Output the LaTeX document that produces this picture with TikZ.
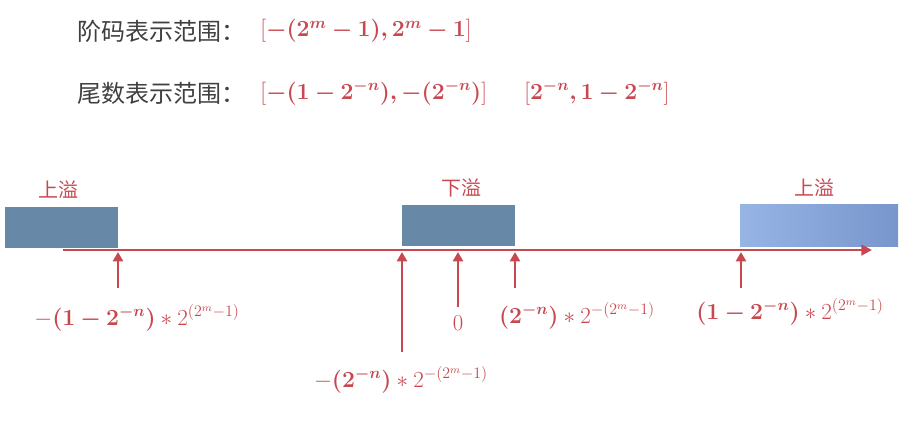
\documentclass[tikz,border=0pt]{standalone}
\usepackage{amsmath}
\usepackage{bm}
\usepackage{fontspec}
\usetikzlibrary{positioning,arrows.meta}
\newfontfamily\cjk{Noto Sans CJK SC}
\definecolor{lineRed}{RGB}{200,72,80}
\definecolor{textGray}{RGB}{64,64,64}
\definecolor{checkBlue}{RGB}{104,136,168}
\definecolor{fadeBlue}{RGB}{150,180,228}
\definecolor{sideBlue}{RGB}{120,150,204}
\tikzstyle{pixelGrid} = [x = 0.75pt, y = -0.75pt]
\tikzstyle{titleText} = [font=\cjk\fontsize{18}{22}\selectfont, text=textGray, anchor=west, inner sep=0pt]
\tikzstyle{rangeText} = [font=\fontsize{17}{20}\selectfont, text=lineRed, anchor=west, inner sep=0pt]
\tikzstyle{flowText} = [font=\cjk\fontsize{15}{18}\selectfont, text=lineRed, inner sep=0pt]
\tikzstyle{boundText} = [font=\fontsize{17}{20}\selectfont, text=lineRed, inner sep=0pt]
\tikzstyle{boxFill} = [fill=checkBlue]
\tikzstyle{axisLine} = [color=lineRed, line width=2.2pt, -{Triangle[length=8pt, width=8pt]}]
\tikzstyle{tickLine} = [color=lineRed, line width=2.2pt, -{Triangle[length=7pt, width=7.5pt]}]
\newcommand{\overflowBox}[5]{
  \coordinate (#1NW) at (#2,#3);
  \coordinate (#1SE) at (#4,#5);
  \fill [boxFill] (#1NW) rectangle (#1SE);
}
\newcommand{\tickArrow}[3]{
  \coordinate (#1Head) at (#2,252);
  \coordinate (#1Foot) at (#2,#3);
  \draw [tickLine] (#1Foot) -- (#1Head);
}

\begin{document}
\begin{tikzpicture}[pixelGrid]
  \useasboundingbox (0,0) rectangle (907,422);

  % ranges
  \node [titleText] (expTitle) at (77,31) {阶码表示范围：};
  \node [rangeText] (expRange) at (260,31) {$[\bm{-(2^m-1),2^m-1}]$};
  \node [titleText] (manTitle) at (77,93) {尾数表示范围：};
  \node [rangeText] (manNeg) at (260,93) {$[\bm{-(1-2^{-n}),-(2^{-n})}]$};
  \node [rangeText] (manPos) at (524,93) {$[\bm{2^{-n},1-2^{-n}}]$};

  % overflow areas
  \overflowBox{leftBox}{5}{207}{118}{248}
  \overflowBox{midBox}{402}{205}{515}{246}
  \coordinate (rightBoxNW) at (740,204);
  \coordinate (rightBoxSE) at (898,246);
  \shade [left color=fadeBlue, right color=sideBlue] (rightBoxNW) rectangle (rightBoxSE);
  \node [flowText] (leftFlow) at (58,190) {上溢};
  \node [flowText] (midFlow) at (461,188) {下溢};
  \node [flowText] (rightFlow) at (814,188) {上溢};

  % axis
  \coordinate (axisStart) at (63,250);
  \coordinate (axisEnd) at (872,250);
  \draw [axisLine] (axisStart) -- (axisEnd);

  \tickArrow{maxNeg}{118}{288}
  \tickArrow{minNeg}{402}{352}
  \tickArrow{zero}{458}{307}
  \tickArrow{minPos}{515}{288}
  \tickArrow{maxPos}{741}{288}

  \node [boundText] (maxNegLabel) at (137,318) {$-\bm{(1-2^{-n})}\ast 2^{(2^m-1)}$};
  \node [boundText] (minNegLabel) at (401,380) {$-\bm{(2^{-n})}\ast 2^{-(2^m-1)}$};
  \node [boundText] (zeroLabel) at (458,323) {0};
  \node [boundText] (minPosLabel) at (577,316) {$\bm{(2^{-n})}\ast 2^{-(2^m-1)}$};
  \node [boundText] (maxPosLabel) at (790,312) {$\bm{(1-2^{-n})}\ast 2^{(2^m-1)}$};
\end{tikzpicture}
\end{document}
